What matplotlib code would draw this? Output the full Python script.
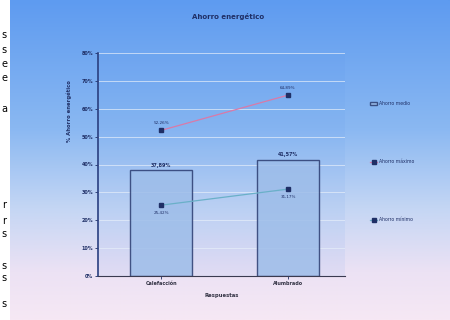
import numpy as np
import matplotlib
matplotlib.use("Agg")
import matplotlib.pyplot as plt
from matplotlib.colors import LinearSegmentedColormap

# Data
categorias = ["Calefacción", "Alumbrado"]
ahorro_medio = [37.89, 41.57]
ahorro_maximo = [52.26, 64.89]
ahorro_minimo = [25.42, 31.17]
y_ticks = [0, 10, 20, 30, 40, 50, 60, 70, 80]

navy = "#1f2f66"

fig = plt.figure(figsize=(4.5, 3.2), dpi=100)
fig.patch.set_facecolor("white")

# Gradient background of the chart panel
bg = fig.add_axes([10 / 450, 0, 440 / 450, 1], zorder=0)
bg_cmap = LinearSegmentedColormap.from_list(
    "panel", [(0.0, "#5e9bf0"), (0.4, "#8ab8f2"), (0.65, "#c4d6f4"),
              (0.85, "#ece2f4"), (1.0, "#f6e8f4")])
grad = np.linspace(0, 1, 256).reshape(-1, 1)
bg.imshow(grad, aspect="auto", cmap=bg_cmap, extent=[0, 1, 0, 1], origin="upper")
bg.set_axis_off()

# Fragments of surrounding page text on the left edge
for yy, ch in [(0.89, "s"), (0.845, "s"), (0.80, "e"), (0.755, "e"), (0.66, "a"),
               (0.36, "r"), (0.31, "r"), (0.27, "s"), (0.17, "s"), (0.13, "s"), (0.05, "s")]:
    fig.text(0.004, yy, ch, fontsize=7, color="black", ha="left", va="center")

ax = fig.add_axes([98 / 450, 44 / 320, 247 / 450, 223 / 320], zorder=1)
ax.patch.set_facecolor("#4f8ee8")
ax.patch.set_alpha(0.08)
x = np.arange(len(categorias))

ax.set_ylim(0, 80)
ax.set_xlim(-0.5, 1.45)
ax.set_yticks(y_ticks)
ax.set_yticklabels([f"{v}%" for v in y_ticks], fontsize=3.5, color=navy, fontweight="bold")
ax.set_xticks(x)
ax.set_xticklabels(categorias, fontsize=3.5, color="#333344", fontweight="bold")
ax.grid(axis="y", color="#e6eefa", linewidth=0.7, alpha=0.7)
ax.set_axisbelow(True)
ax.tick_params(length=2, width=0.6, color=navy, pad=1.5)
for s in ["top", "right"]:
    ax.spines[s].set_visible(False)
ax.spines["left"].set_color("#2a3f80")
ax.spines["left"].set_linewidth(1.2)
ax.spines["bottom"].set_color("#3a3a50")
ax.spines["bottom"].set_linewidth(0.8)

bar_handle = ax.bar(x, ahorro_medio, width=0.49, color="#9dbde9", alpha=0.85,
                    edgecolor="#2b3c70", linewidth=1.0, label="Ahorro medio", zorder=2)
for xi, v in zip(x, ahorro_medio):
    ax.text(xi, v + 1.0, f"{v:.2f}%".replace(".", ","), ha="center", va="bottom",
            fontsize=3.5, color=navy, fontweight="bold")

max_handle, = ax.plot(x, ahorro_maximo, color="#d97aa8", linewidth=0.9, marker="s",
                      markersize=3.5, markerfacecolor=navy, markeredgecolor=navy,
                      label="Ahorro máximo", zorder=3)
for xi, v in zip(x, ahorro_maximo):
    ax.text(xi, v + 2.0, f"{v:.2f}%".replace(".", ","), ha="center", va="bottom",
            fontsize=3, color=navy)

min_handle, = ax.plot(x, ahorro_minimo, color="#6ab0c8", linewidth=0.9, marker="s",
                      markersize=3.5, markerfacecolor=navy, markeredgecolor=navy,
                      label="Ahorro mínimo", zorder=3)
for xi, v in zip(x, ahorro_minimo):
    ax.text(xi, v - 2.0, f"{v:.2f}%".replace(".", ","), ha="center", va="top",
            fontsize=3, color=navy)

ax.set_ylabel("% Ahorro energético", fontsize=3.8, color=navy, fontweight="bold")
ax.yaxis.set_label_coords(-0.105, 0.74)
ax.set_xlabel("Respuestas", fontsize=3.8, color="#333344", fontweight="bold", labelpad=5)

fig.text(228 / 450, 1 - 17 / 320, "Ahorro energético", ha="center", va="center",
         fontsize=5, color=navy, fontweight="bold")

leg = ax.legend(handles=[bar_handle, max_handle, min_handle],
                loc="upper left", bbox_to_anchor=(366 / 450, 1 - 97 / 320),
                bbox_transform=fig.transFigure, fontsize=3.3, frameon=False,
                labelspacing=11.6, handlelength=1.5, handletextpad=0.5)
for t in leg.get_texts():
    t.set_color(navy)

fig.savefig("out.png", dpi=100)
